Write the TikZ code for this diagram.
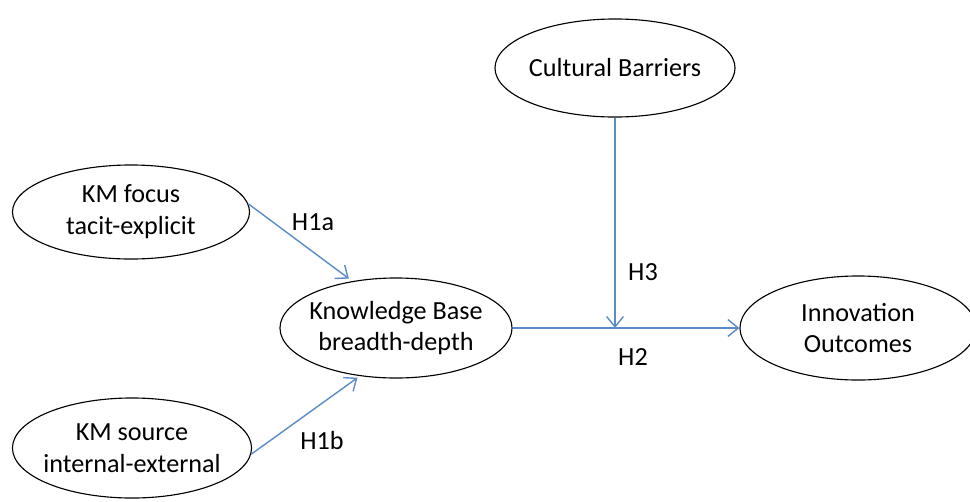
\documentclass[tikz,border=0pt]{standalone}
\usepackage{fontspec}
\setmainfont{Carlito}
\usetikzlibrary{arrows.meta, shapes.geometric}

\begin{document}
\begin{tikzpicture}[x=0.025cm, y=-0.025cm,
      oval/.style={draw, ellipse, line width=0.8pt, inner xsep=-14pt,
                   inner ysep=0pt, align=center,
                   font=\fontsize{18.6}{22.6}\selectfont},
      lbl/.style={font=\fontsize{18.6}{22}\selectfont},
      arr/.style={-{Straight Barb[length=2.6mm, width=4.2mm]},
                  draw=hypblue, line width=1pt}]
    \definecolor{hypblue}{HTML}{5B8BC9}
    \useasboundingbox (0,0) rectangle (970,501);
    \node[oval, minimum width=5.925cm, minimum height=2.35cm]
          (focus) at (131,212) {KM focus\\tacit-explicit};
    \node[oval, minimum width=5.975cm, minimum height=2.5cm]
          (source) at (132,448) {KM source\\internal-external};
    \node[oval, minimum width=5.8cm, minimum height=2.5cm]
          (kb) at (396,328) {Knowledge Base\\breadth-depth};
    \node[oval, minimum width=6cm, minimum height=2.45cm]
          (culture) at (615,68) {Cultural Barriers};
    \node[oval, minimum width=5.9cm, minimum height=2.6cm]
          (innov) at (858,328) {Innovation\\Outcomes};
    \coordinate (meet) at (culture.south |- kb.east);
    \draw[arr, shorten >=3pt] (focus.4) -- (kb.133);
    \draw[arr, shorten >=2pt] (source.-3) -- (kb.-127);
    \draw[arr] (kb.east) -- (innov.west);
    \draw[arr] (culture.south) -- (meet);
    \node[lbl] (h1a) at (313,222) {H1a};
    \node[lbl] (h1b) at (322,440) {H1b};
    \node[lbl] (h2)  at (633,357) {H2};
    \node[lbl] (h3)  at (643,272) {H3};
  \end{tikzpicture}
\end{document}
